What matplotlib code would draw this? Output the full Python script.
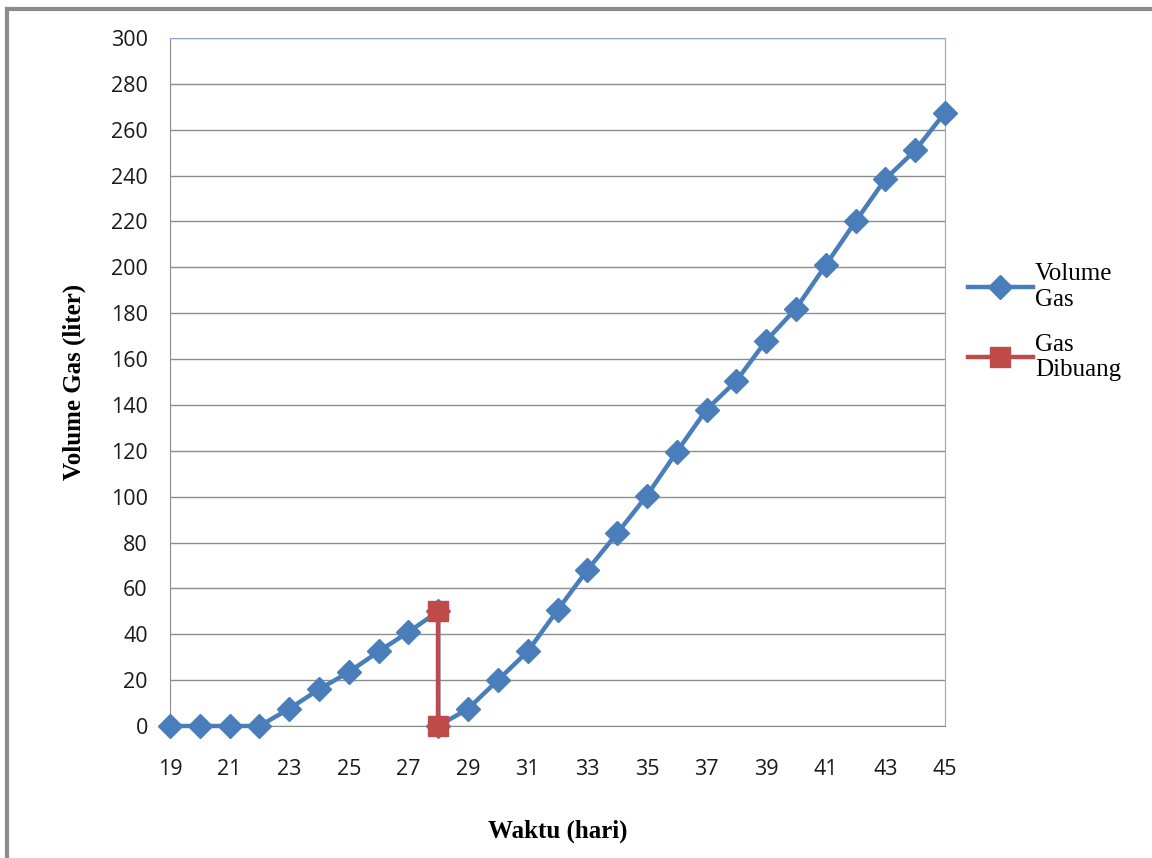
import numpy as np
import matplotlib.pyplot as plt
from matplotlib.lines import Line2D

# Volume Gas (hari 28 tercatat dua kali: sebelum dan sesudah gas dibuang)
hari = [19, 20, 21, 22, 23, 24, 25, 26, 27, 28, 28, 29, 30, 31, 32, 33, 34, 35, 36,
        37, 38, 39, 40, 41, 42, 43, 44, 45]
volume = [0, 0, 0, 0, 7.5, 16, 23.5, 32.5, 41, 50, 0, 7.5, 20, 32.5, 50.5, 68, 84,
          100.5, 119.5, 138, 150.5, 168, 182, 201, 220, 238.5, 251, 267.5]

# Gas Dibuang
hari_buang = [28, 28]
gas_buang = [50, 0]

x_ticks = list(range(19, 46, 2))
y_ticks = list(range(0, 301, 20))

fig = plt.figure(figsize=(11.52, 8.58), dpi=100)
ax = fig.add_axes([170 / 1152, 1 - 726 / 858, 775 / 1152, 688 / 858])

ax.plot(hari, volume, color='#4a7ebb', linewidth=3.2, marker='D', markersize=12,
        label='Volume\nGas', zorder=3, clip_on=False)
ax.plot(hari_buang, gas_buang, color='#be4b48', linewidth=3.2, marker='s', markersize=14,
        label='Gas\nDibuang', zorder=4, clip_on=False)

ax.set_xlim(19, 45)
ax.set_ylim(0, 300)
ax.set_xticks(x_ticks)
ax.set_yticks(y_ticks)
ax.tick_params(axis='both', length=0, labelsize=15.5)
ax.tick_params(axis='x', pad=24)
ax.tick_params(axis='y', pad=16)
for lbl in ax.get_xticklabels() + ax.get_yticklabels():
    lbl.set_family('Open Sans')
    lbl.set_color('#1a1a1a')
ax.grid(axis='y', color='#8c8c8c', linewidth=1)
ax.set_axisbelow(True)

for side in ['left', 'bottom']:
    ax.spines[side].set_color('#8c8c8c')
for side in ['top', 'right']:
    ax.spines[side].set_color('#86a9d8')

ax.set_xlabel('Waktu (hari)', family='Liberation Serif', fontsize=18, fontweight='bold', labelpad=28)
ax.set_ylabel('Volume Gas (liter)', family='Liberation Serif', fontsize=18, fontweight='bold', labelpad=18)

leg = ax.legend(loc='upper left', bbox_to_anchor=(1.0, 0.705), frameon=False,
                prop={'family': 'Liberation Serif', 'size': 18}, handlelength=2.6,
                labelspacing=0.92, handletextpad=0.1)

# bingkai luar grafik (kiri dan atas)
fig.add_artist(Line2D([7 / 1152, 7 / 1152], [0, 1 - 9 / 858], transform=fig.transFigure,
                      color='#8c8c8c', linewidth=3))
fig.add_artist(Line2D([7 / 1152, 1], [1 - 9 / 858, 1 - 9 / 858], transform=fig.transFigure,
                      color='#8c8c8c', linewidth=3))

fig.savefig('out.png', dpi=100)
